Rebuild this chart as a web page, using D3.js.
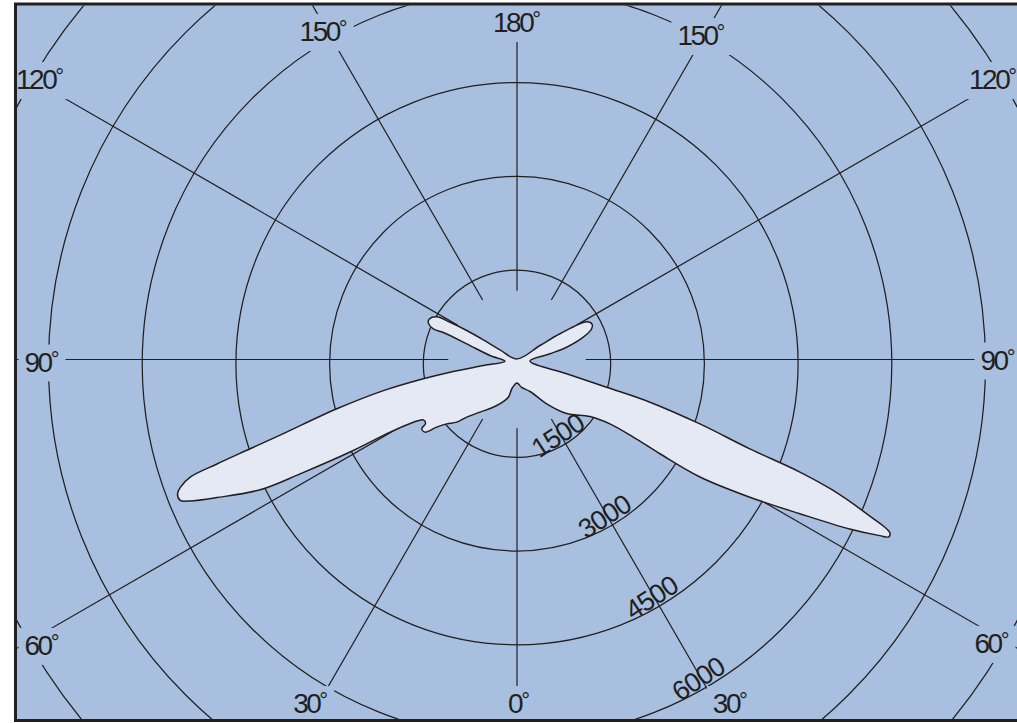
<!DOCTYPE html>
<html>
<head>
<meta charset="utf-8">
<script src="https://cdn.jsdelivr.net/npm/d3@7"></script>
<style>
  html, body { margin: 0; padding: 0; background: #ffffff; }
  svg { display: block; }
  text { font-family: "Liberation Sans", Arial, Helvetica, sans-serif; fill: #231f20; }
</style>
</head>
<body>
<svg id="chart" width="1017" height="723"></svg>
<script>
// Pattern outline, traced clockwise from the centre.
// Bearing in degrees: 0 = straight down, positive = right half, negative = left half.
const outlineAngle = [
  180, -119.7, -120.3, -120.0, -119.1, -118.0, -114.8, -112.3, -110.1, -110.1,
  -107.3, -98.4, -81.9, -79.9, -79.3, -78.4, -76.9, -74.7, -72.4, -71.5,
  -70.8, -70.2, -69.2, -68.4, -67.3, -66.6, -65.3, -63.1, -62.2, -61.0,
  -60.2, -58.8, -57.2, -55.0, -54.0, -51.7, -49.9, -47.5, -43.9, -41.1,
  -35.1, -23.8, -13.0, -9.8, 0, 9.5, 22.1, 33.8, 42.6, 52.0,
  55.3, 56.3, 56.6, 57.3, 59.4, 61.4, 63.0, 64.1, 64.5, 65.1,
  66.2, 67.5, 68.3, 69.0, 70.6, 72.2, 72.8, 74.0, 83.4, 99.8,
  103.9, 108.6, 112.4, 115.3, 118.3, 120.9, 121.3
];
// Range along each bearing (same units as the ring labels).
const outlineRange = [
  10, 314, 624, 929, 1227, 1455, 1546, 1533, 1427, 1256,
  843, 437, 194, 548, 1091, 1531, 2196, 2991, 3924, 4505,
  5086, 5560, 5766, 5845, 5845, 5701, 5290, 4610, 3925, 3056,
  2341, 1939, 1783, 1787, 1885, 1876, 1680, 1525, 1392, 1224,
  1030, 805, 619, 471, 376, 454, 553, 853, 1174, 1482,
  1809, 2238, 2741, 3481, 4330, 5157, 5977, 6455, 6595, 6579,
  6115, 5478, 4874, 3992, 3104, 2235, 1502, 827, 209, 536,
  819, 1119, 1292, 1328, 1272, 802, 431
];

const ringValues   = [1500, 3000, 4500, 6000, 7500, 9000];
const ringLabels   = ["1500", "3000", "4500", "6000"];
const spokeAngles  = [0, 30, 60, 90, 120, 150, 180];
const spokeLabels  = ["0", "30", "60", "90", "120", "150", "180"];

// ---- layout ----
const W = 1017, H = 723;
const cx = 517, cy = 359.5;      // pattern / spoke origin
const ringDy = 4.2;               // range rings sit a little lower
const spokeStart = 1100;          // spokes begin just inside the first ring
const scaleLabelBearing = 30;     // ring values are written along this spoke (right half)
const bg = "#a8bfe0", ink = "#231f20", lobeFill = "#e4e9f4";

const r = d3.scaleLinear().domain([0, 1500]).range([0, 93.7]);
const rad = d => d * Math.PI / 180;
// position for a bearing (deg from down, signed by half) and a range value
const pos = (deg, v, ox = cx, oy = cy) => [ox + r(v) * Math.sin(rad(deg)), oy + r(v) * Math.cos(rad(deg))];

const svg = d3.select("#chart");

svg.append("defs").append("clipPath").attr("id", "plotClip")
  .append("rect").attr("x", 17).attr("y", 5.5).attr("width", 1000).attr("height", 713.5);

// plot background
svg.append("rect").attr("x", 15.5).attr("y", 4).attr("width", 1010).attr("height", 716.5)
  .attr("fill", bg);

const plot = svg.append("g").attr("clip-path", "url(#plotClip)");

// range rings
plot.append("g").selectAll("circle").data(ringValues).join("circle")
  .attr("cx", cx).attr("cy", cy + ringDy).attr("r", d => r(d))
  .attr("fill", "none").attr("stroke", ink).attr("stroke-width", 1.25);

// spokes, mirrored on both halves
const spokes = [];
spokeAngles.forEach((a, i) => {
  if (a === 0 || a === 180) spokes.push({ a, s: 1, key: "C" + a, label: spokeLabels[i] });
  else {
    spokes.push({ a: -a, s: -1, key: "L" + a, label: spokeLabels[i] });
    spokes.push({ a: a, s: 1, key: "R" + a, label: spokeLabels[i] });
  }
});
plot.append("g").selectAll("line").data(spokes).join("line")
  .attr("x1", d => pos(d.a, spokeStart)[0]).attr("y1", d => pos(d.a, spokeStart)[1])
  .attr("x2", d => pos(d.a, 12000)[0]).attr("y2", d => pos(d.a, 12000)[1])
  .attr("stroke", ink).attr("stroke-width", 1.2);

// pattern outline
const outline = outlineAngle.map((a, i) => ({ a, v: outlineRange[i] }));
const radial = d3.lineRadial()
  .angle(d => Math.PI - rad(d.a))
  .radius(d => r(d.v))
  .curve(d3.curveCatmullRomClosed.alpha(0.5));
plot.append("path")
  .attr("transform", `translate(${cx},${cy})`)
  .attr("d", radial(outline))
  .attr("fill", lobeFill).attr("stroke", ink).attr("stroke-width", 1.5)
  .attr("stroke-linejoin", "round");

// bearing labels: where each spoke meets the label band, with a knockout behind
const band = { left: 40, right: 994, top: 28, bottom: 703 };
const nudge = {
  C180: [0, -6], L150: [-2, 3], R150: [-7, 7], L120: [0, -5], R120: [-1, -5],
  L90: [2, 2], R90: [4, 0], L60: [2, 10], R60: [-2, 8], L30: [-8, 0], C0: [2, 0], R30: [15, 0]
};
const labelLayer = plot.append("g");
spokes.forEach(d => {
  const ux = Math.sin(rad(d.a)), uy = Math.cos(rad(d.a));
  let t = Infinity;
  if (ux < -1e-9) t = Math.min(t, (band.left - cx) / ux);
  if (ux > 1e-9) t = Math.min(t, (band.right - cx) / ux);
  if (uy < -1e-9) t = Math.min(t, (band.top - cy) / uy);
  if (uy > 1e-9) t = Math.min(t, (band.bottom - cy) / uy);
  const n = nudge[d.key] || [0, 0];
  const x = cx + t * ux + n[0], y = cy + t * uy + n[1];
  const g = labelLayer.append("g");
  const knock = g.append("rect").attr("fill", bg);
  const txt = g.append("text")
    .attr("x", x).attr("y", y + 10)
    .attr("text-anchor", "middle")
    .attr("font-size", 28).attr("letter-spacing", -2.5);
  txt.append("tspan").text(d.label);
  txt.append("tspan").attr("font-size", 22).attr("dy", -5).attr("letter-spacing", 0).text("°");
  const b = txt.node().getBBox();
  const pad = 6;
  knock.attr("x", b.x - pad).attr("y", b.y - pad + 4)
    .attr("width", b.width + 2 * pad).attr("height", b.height + 2 * pad - 6);
});

// ring value labels written along one spoke, tangent to each ring
svg.append("g").selectAll("text").data(ringLabels).join("text")
  .attr("transform", d => {
    const v = +d;
    const p = pos(scaleLabelBearing, v, cx, cy + ringDy);
    return `translate(${p[0]},${p[1]}) rotate(${-(scaleLabelBearing + 3)})`;
  })
  .attr("x", 0).attr("y", -2)
  .attr("text-anchor", "middle")
  .attr("font-size", 27).attr("letter-spacing", -1)
  .text(d => d);

// frame
svg.append("rect").attr("x", 15.5).attr("y", 4).attr("width", 1010).attr("height", 716.5)
  .attr("fill", "none").attr("stroke", ink).attr("stroke-width", 3);
</script>
</body>
</html>
